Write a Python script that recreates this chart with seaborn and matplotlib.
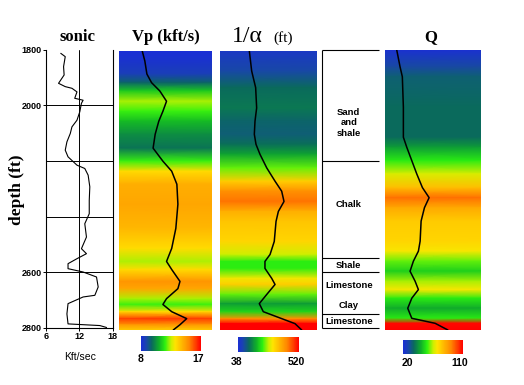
import numpy as np
import pandas as pd
import matplotlib
matplotlib.use("Agg")
import matplotlib.pyplot as plt
import seaborn as sns
from matplotlib.colors import LinearSegmentedColormap, Normalize
from matplotlib.cm import ScalarMappable

# ---------------- data ----------------
sonic_depth = [1812, 1824, 1860, 1890, 1920, 1932, 1938, 1951, 1974, 1981, 1992, 2023, 2053, 2077,
               2101, 2131, 2161, 2185, 2215, 2227, 2251, 2293, 2342, 2390, 2426, 2474, 2516, 2534,
               2552, 2570, 2588, 2600, 2618, 2654, 2684, 2690, 2714, 2751, 2787, 2793, 2800]
sonic_vals = [8.7, 9.5, 9.2, 9.3, 8.3, 9.5, 10.7, 11.6, 11.2, 12.7, 12.4, 12.1, 11.6, 10.7,
              10.4, 9.8, 9.5, 10.0, 11.6, 13.0, 13.6, 13.9, 13.8, 13.8, 13.0, 13.3, 12.4, 13.3,
              11.6, 10.0, 10.0, 12.7, 15.1, 15.4, 14.8, 12.7, 10.0, 9.8, 10.0, 15.7, 16.9]

vp_depth = [1800, 1836, 1883, 1914, 1944, 1981, 2017, 2053, 2100, 2150, 2197, 2233, 2280, 2352,
            2439, 2511, 2558, 2587, 2630, 2656, 2692, 2713, 2739, 2764, 2786, 2805]
vp_vals = [8.0, 8.5, 8.9, 9.8, 11.4, 12.7, 12.0, 11.2, 10.5, 10.1, 12.0, 13.7, 14.7, 14.9,
           14.5, 13.7, 12.7, 13.7, 15.3, 14.9, 12.7, 12.0, 13.7, 16.6, 15.3, 14.0]

alpha_depth = [1800, 1872, 1932, 2005, 2053, 2100, 2136, 2172, 2221, 2269, 2305, 2342, 2378, 2414,
               2486, 2533, 2558, 2583, 2619, 2641, 2677, 2710, 2739, 2764, 2782, 2805]
alpha_vals = [40, 61, 97, 106, 91, 85, 100, 136, 197, 272, 332, 353, 302, 281,
              265, 227, 181, 181, 242, 272, 197, 130, 166, 332, 452, 513]

q_depth = [1800, 1860, 1896, 2005, 2113, 2149, 2197, 2245, 2294, 2330, 2366, 2414, 2486, 2522,
           2558, 2594, 2630, 2660, 2691, 2727, 2763, 2781, 2805]
q_vals = [20.4, 26.1, 30.1, 31.9, 31.9, 37.8, 46.5, 55.2, 65.0, 76.6, 68.5, 62.7, 61.0, 58.0,
          49.3, 43.5, 52.3, 58.0, 46.5, 39.5, 46.5, 87.1, 109.2]

lith_bounds = [1800, 2200, 2550, 2600, 2750, 2800]
lith_labels = ["Sand\nand\nshale", "Chalk", "Shale", "Limestone", "Clay", "Limestone"]
lith_label_depth = [2063, 2358, 2577, 2649, 2722, 2779]

sonic_ticks = [1800, 2000, 2600, 2800]
sonic_grid = [2000, 2200, 2400, 2600]
sonic_xticks = [6, 12, 18]

cbar_vp = (8, 17)
cbar_alpha = (38, 520)
cbar_q = (20, 110)

# ---------------- style ----------------
sns.set_style("white")
plt.rcParams["font.family"] = ["Liberation Sans", "DejaVu Sans"]
plt.rcParams["text.color"] = "black"
plt.rcParams["xtick.color"] = "black"
plt.rcParams["ytick.color"] = "black"
plt.rcParams["axes.labelcolor"] = "black"

W, H = 524, 385
fig = plt.figure(figsize=(W / 100, H / 100), dpi=100)


def ax_px(x0, y0, x1, y1):
    return fig.add_axes([x0 / W, 1 - y1 / H, (x1 - x0) / W, (y1 - y0) / H])


cmap = LinearSegmentedColormap.from_list("geo", [
    (0.00, "#1a2ed6"),
    (0.08, "#1a44ae"),
    (0.18, "#0a6a5c"),
    (0.30, "#10b028"),
    (0.40, "#2cf010"),
    (0.50, "#c8f000"),
    (0.57, "#ffe400"),
    (0.68, "#ffb800"),
    (0.80, "#ff8800"),
    (0.92, "#ff3800"),
    (1.00, "#ff0000")])

# ---------------- sonic log ----------------
ax_s = ax_px(45.7, 50, 112.7, 327.5)
sns.lineplot(x=sonic_vals, y=sonic_depth, orient="y", sort=False, ax=ax_s,
             color="black", lw=0.8)
ax_s.set_xlim(6, 18)
ax_s.set_ylim(2800, 1800)
for d in sonic_grid:
    ax_s.axhline(d, color="black", lw=0.7)
ax_s.axvline(12, color="black", lw=0.7)
ax_s.set_yticks(sonic_ticks)
ax_s.set_xticks(sonic_xticks)
ax_s.tick_params(axis="both", labelsize=6.5, length=2, width=0.7, pad=1, direction="out",
                 left=True, bottom=True, colors="black")
for lab in ax_s.get_xticklabels() + ax_s.get_yticklabels():
    lab.set_fontweight("bold")
for sp in ["left", "bottom", "right"]:
    ax_s.spines[sp].set_color("black")
    ax_s.spines[sp].set_linewidth(0.8)
ax_s.spines["top"].set_visible(False)
ax_s.set_xlabel("")
ax_s.set_ylabel("")


def color_track(rect, depth, vals, vmin, vmax, xlim):
    ax = ax_px(*rect)
    dep = np.asarray(depth, dtype=float)
    v = np.asarray(vals, dtype=float)
    X, Y = np.meshgrid(xlim, dep)
    C = np.column_stack([v, v])
    ax.pcolormesh(X, Y, C, shading="gouraud", cmap=cmap,
                  norm=Normalize(vmin, vmax), rasterized=True)
    sns.lineplot(x=v, y=dep, orient="y", sort=False, ax=ax, color="black", lw=1.1)
    ax.set_xlim(*xlim)
    ax.set_ylim(dep[-1], dep[0])
    ax.set_axis_off()
    return ax


color_track((119, 51, 212, 330), vp_depth, vp_vals, 8.3, 17.4, (3.5, 21.5))
color_track((220, 51, 317, 330), alpha_depth, alpha_vals, 25, 420, (-225, 651))
color_track((385, 50, 481, 330), q_depth, q_vals, 19.5, 88, (0, 166.7))

# ---------------- lithology column ----------------
ax_l = ax_px(322, 50, 379, 327.5)
ax_l.set_xlim(0, 1)
ax_l.set_ylim(2800, 1800)
ax_l.hlines(lith_bounds, 0, 1, color="black", lw=0.8, clip_on=False)
ax_l.vlines(0, lith_bounds[0], lith_bounds[-1], color="black", lw=0.8, clip_on=False)
for lab, d in zip(lith_labels, lith_label_depth):
    ax_l.text(0.47, d, lab, ha="center", va="center", fontsize=6.8, fontweight="bold",
              linespacing=1.25, color="black")
ax_l.set_axis_off()

# ---------------- colour bars ----------------
def cbar(rect, lims):
    cax = ax_px(*rect)
    sm = ScalarMappable(norm=Normalize(*lims), cmap=cmap)
    cb = fig.colorbar(sm, cax=cax, orientation="horizontal")
    cb.set_ticks([])
    cb.outline.set_visible(False)
    return cax


cbar((141, 336, 201, 351), cbar_vp)
cbar((238, 337, 299, 352), cbar_alpha)
cbar((403, 340, 463, 354), cbar_q)


def ftext(x, y, s, **kw):
    fig.text(x / W, 1 - y / H, s, color="black", **kw)


lab_kw = dict(fontsize=7.5, fontweight="bold", ha="center", va="center")
ftext(141, 359, str(cbar_vp[0]), **lab_kw)
ftext(198, 359, str(cbar_vp[1]), **lab_kw)
ftext(237, 362, str(cbar_alpha[0]), **lab_kw)
ftext(296, 362, str(cbar_alpha[1]), **lab_kw)
ftext(407, 363, str(cbar_q[0]), **lab_kw)
ftext(460, 363, str(cbar_q[1]), **lab_kw)

# ---------------- titles & labels ----------------
serif = ["Liberation Serif", "DejaVu Serif"]
ftext(78, 37, "sonic", fontsize=12, fontweight="bold", family=serif, ha="center", va="center")
ftext(166, 37, "Vp (kft/s)", fontsize=12, fontweight="bold", family=serif, ha="center", va="center")
ftext(247, 36, "1/α", fontsize=17, family=serif, ha="center", va="center")
ftext(283, 38, "(ft)", fontsize=11, family=serif, ha="center", va="center")
ftext(431, 37, "Q", fontsize=12, fontweight="bold", family=serif, ha="center", va="center")
ftext(17, 190, "depth (ft)", fontsize=12.5, fontweight="bold", family=serif,
      rotation=90, ha="center", va="center")
ftext(80, 357, "Kft/sec", fontsize=7.5, ha="center", va="center")

fig.savefig("out.png", dpi=100)
